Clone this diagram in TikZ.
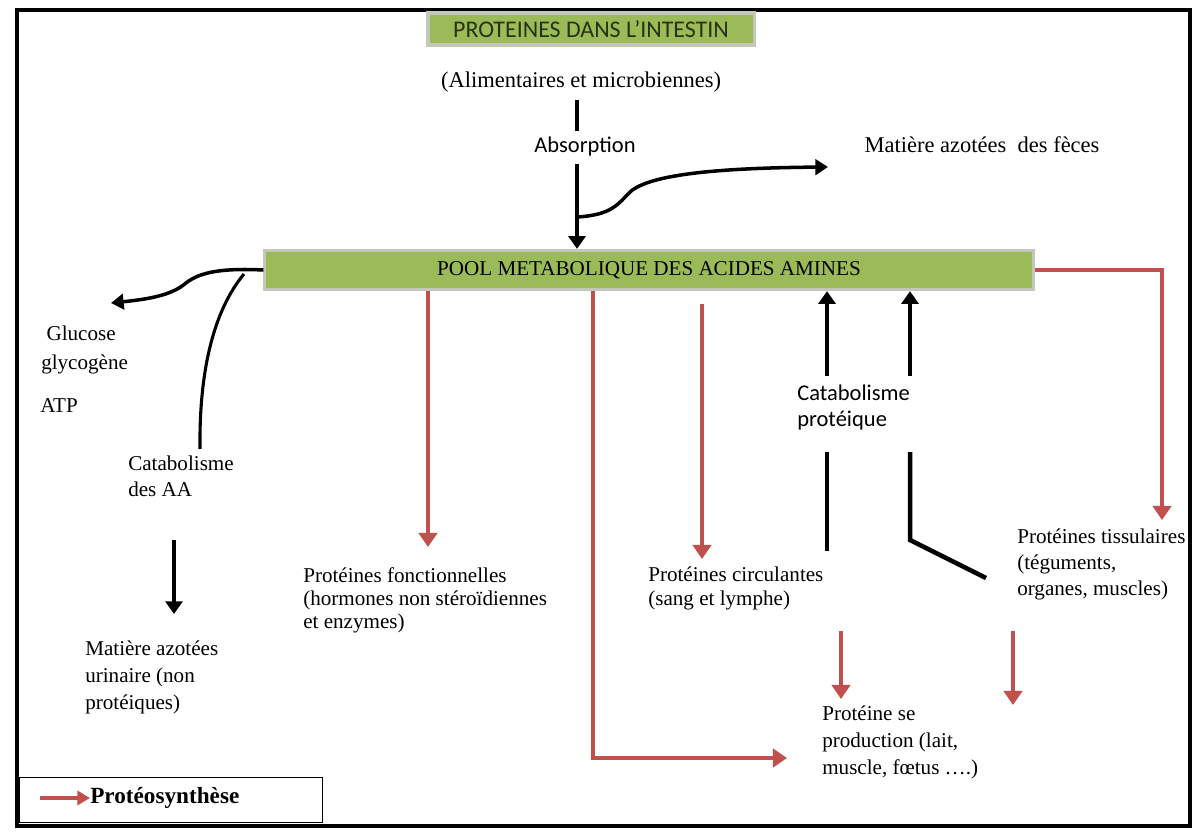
\documentclass[tikz,border=0pt]{standalone}
\usepackage{fontspec}
\setmainfont{Liberation Serif}
\newfontfamily\sansf{Carlito}
\usetikzlibrary{positioning, arrows.meta}
\definecolor{poolgreen}{RGB}{155,187,89}
\definecolor{shadowgray}{RGB}{196,200,188}
\definecolor{synthred}{RGB}{192,80,77}
\definecolor{titlegreen}{RGB}{40,50,20}
\tikzstyle{greenbox} = [rectangle, fill=poolgreen, draw=shadowgray, line width=2.2pt, inner sep=0pt]
\tikzstyle{txt} = [align=left, inner sep=0pt, anchor=north west, font=\fontsize{15}{18.5}\selectfont]
\tikzstyle{stxt} = [align=left, inner sep=0pt, anchor=north west, font=\sansf\fontsize{16}{18}\selectfont]
\tikzstyle{redarrow} = [draw=synthred, line width=3.2pt, -{Triangle[width=13pt,length=10pt]}]
\tikzstyle{blackarrow} = [line width=3.2pt, -{Triangle[width=12pt,length=9pt]}]
\tikzstyle{blackline} = [line width=3.2pt]
\tikzstyle{curvearrow} = [line width=2.5pt, -{Triangle[width=11pt,length=9pt]}]

\begin{document}
\begin{tikzpicture}[x=0.025cm, y=-0.025cm]
\useasboundingbox (0,0) rectangle (1200,832);
\draw[line width=3.4pt] (17,10) rectangle (1190,826);

% en haut
\node (intestin) [greenbox, minimum width=8.15cm, minimum height=0.8cm, text=titlegreen, font=\sansf\fontsize{17}{19}\selectfont] at (591,29) {PROTEINES DANS L’INTESTIN};
\node (alim) [txt, anchor=center, font=\fontsize{16}{19}\selectfont] at (581,82) {(Alimentaires et microbiennes)};
\node (absorp) [stxt, anchor=center] at (585,147) {Absorption};
\node (feces) [txt, anchor=center, font=\fontsize{16}{19}\selectfont] at (982,145) {Matière azotées\ \ des fèces};
\node (pool) [greenbox, minimum width=19.2cm, minimum height=0.98cm, font=\fontsize{15}{18}\selectfont] at (649,270) {POOL METABOLIQUE DES ACIDES AMINES};

% textes
\node (glucose) [txt, font=\fontsize{15}{20}\selectfont] at (41,326) {\ Glucose\\glycogène};
\node (atp) [txt] at (40,398) {ATP};
\node (catAA) [txt] at (128,456) {Catabolisme\\des AA};
\node (urin) [txt, font=\fontsize{15}{19}\selectfont] at (85,641) {Matière azotées\\urinaire (non\\protéiques)};
\node (fonct) [txt, font=\fontsize{15}{16.5}\selectfont] at (303,567) {Protéines fonctionnelles\\(hormones non stéroïdiennes\\et enzymes)};
\node (circ) [txt, font=\fontsize{15}{17}\selectfont] at (648,567) {Protéines circulantes\\(sang et lymphe)};
\node (catprot) [stxt] at (797,385) {Catabolisme\\protéique};
\node (tiss) [txt] at (1017,529) {Protéines tissulaires\\(téguments,\\organes, muscles)};
\node (prod) [txt, font=\fontsize{15}{19}\selectfont] at (822,706) {Protéine se\\production (lait,\\muscle, fœtus ….)};

% legende
\node (legend) [rectangle, draw, line width=0.8pt, minimum width=7.58cm, minimum height=1.13cm] at (171,800) {};
\node (synth) [txt, anchor=west, font=\bfseries\fontsize{16.5}{19}\selectfont] at (90,798) {Protéosynthèse};
\coordinate (lg) at (40,798);
\draw[draw=synthred, line width=2.6pt, -{Triangle[width=10pt,length=9pt]}] (lg) -- (synth.west);

% absorption
\coordinate (stem) at (577,0);
\coordinate (split) at (577,217);
\coordinate (fecestip) at (828,167);
\draw[blackline] ([yshift=-5pt]stem |- alim.south) -- ([yshift=4pt]stem |- absorp.north);
\draw[blackarrow] ([yshift=-5pt]stem |- absorp.south) -- (stem |- pool.north);
\draw[curvearrow] (split) .. controls (612,215) and (618,204) .. (630,192) .. controls (650,174) and (720,168) .. (fecestip);

% catabolisme des AA
\coordinate (glutip) at (111,303);
\coordinate (cata) at (244,274);
\coordinate (catAAtop) at (200,449);
\draw[curvearrow] (pool.west) .. controls (222,268) and (200,272) .. (186,283) .. controls (172,295) and (150,299) .. (glutip);
\draw[line width=2.2pt] (cata) .. controls (214,310) and (199,370) .. (catAAtop);
\coordinate (u1) at (174,540);
\coordinate (u2) at (174,614);
\draw[blackarrow] (u1) -- (u2);

% proteosynthese
\coordinate (r1a) at (428,0);
\coordinate (r1b) at (428,547);
\draw[redarrow] (r1a |- pool.south) -- (r1b);
\coordinate (r2a) at (593,0);
\coordinate (r2b) at (593,758);
\coordinate (prodin) at (787,758);
\draw[redarrow] (r2a |- pool.south) -- (r2b) -- (prodin);
\coordinate (r3a) at (702,304);
\coordinate (r3b) at (702,559);
\draw[redarrow] (r3a) -- (r3b);
\coordinate (tisstip) at (1162,520);
\draw[redarrow] (pool.east) -| (tisstip);
\coordinate (r4a) at (841,631);
\coordinate (r4b) at (841,699);
\draw[redarrow] (r4a) -- (r4b);
\coordinate (r5a) at (1013,631);
\coordinate (r5b) at (1013,705);
\draw[redarrow] (r5a) -- (r5b);

% catabolisme proteique
\coordinate (k1) at (827,376);
\coordinate (k2) at (910,376);
\draw[blackarrow] (k1) -- (k1 |- pool.south);
\draw[blackarrow] (k2) -- (k2 |- pool.south);
\coordinate (k1a) at (827,452);
\coordinate (k1b) at (827,551);
\draw[blackline] (k1a) -- (k1b);
\coordinate (k2a) at (910,452);
\coordinate (k2b) at (910,540);
\coordinate (k2c) at (986,578);
\draw[blackline] (k2a) -- (k2b) -- (k2c);
\end{tikzpicture}
\end{document}
